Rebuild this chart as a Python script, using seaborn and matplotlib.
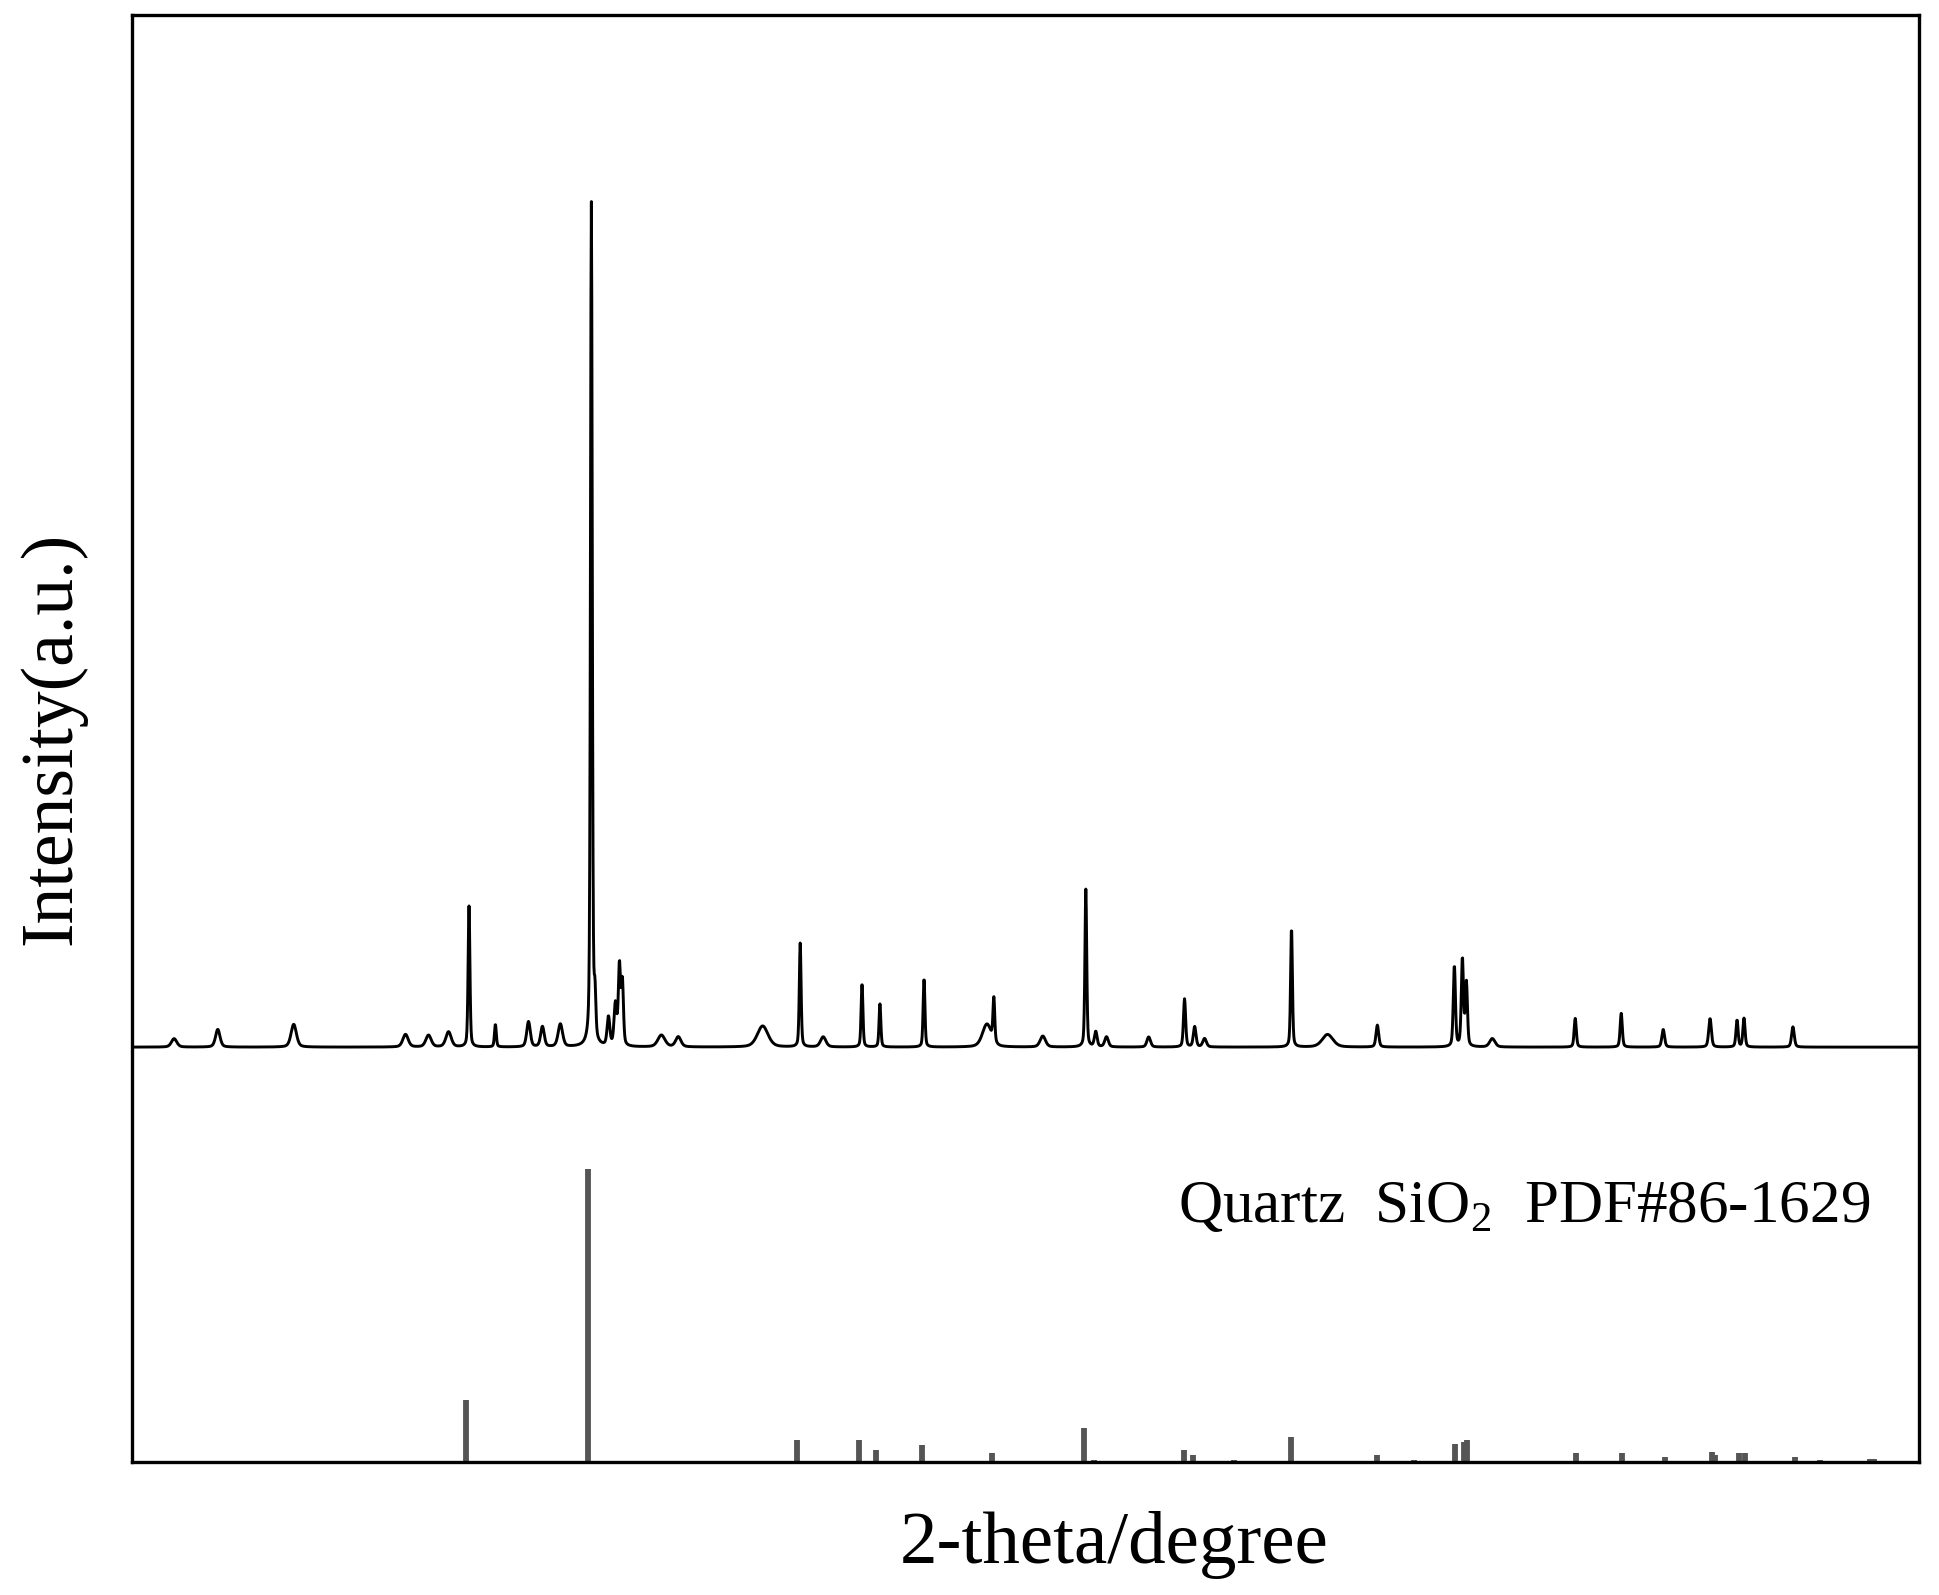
import numpy as np
import pandas as pd
import matplotlib
matplotlib.use("Agg")
import matplotlib.pyplot as plt
import seaborn as sns

# measured pattern: peak position (2-theta), height (% of strongest), width (FWHM, degree)
peak_pos = [7.0, 9.07, 12.67, 17.97, 19.06, 20.01, 20.98, 22.23, 23.8, 24.46, 25.31,
            26.78, 26.95, 27.59, 27.92, 28.11, 28.25, 30.1, 30.9, 34.9, 36.68, 37.77,
            39.61, 40.46, 42.55, 45.53, 45.86, 48.18, 50.22, 50.69, 51.2, 53.2, 54.9,
            55.38, 55.85, 59.97, 61.68, 64.04, 67.69, 68.07, 68.26, 69.49, 73.42, 75.6,
            77.59, 79.81, 81.09, 81.42, 83.74]
peak_int = [1.0, 2.1, 2.7, 1.5, 1.4, 1.8, 16.7, 2.7, 3.0, 2.4, 2.7,
            100, 5.0, 3.4, 4.9, 9.4, 7.5, 1.4, 1.2, 2.5, 12.3, 1.2,
            7.6, 5.1, 8.2, 2.7, 5.1, 1.3, 18.7, 1.8, 1.2, 1.2, 5.7,
            2.4, 1.0, 14.2, 1.5, 2.6, 9.6, 10.4, 7.5, 1.0, 3.4, 4.0,
            2.1, 3.4, 3.2, 3.4, 2.4]
peak_fwhm = [0.3, 0.25, 0.3, 0.3, 0.3, 0.3, 0.1, 0.1, 0.2, 0.2, 0.25,
             0.1, 0.1, 0.15, 0.15, 0.12, 0.12, 0.4, 0.3, 0.6, 0.1, 0.3,
             0.1, 0.1, 0.1, 0.5, 0.1, 0.3, 0.1, 0.15, 0.2, 0.2, 0.12,
             0.15, 0.2, 0.1, 0.6, 0.15, 0.12, 0.12, 0.12, 0.3, 0.12, 0.12,
             0.15, 0.15, 0.12, 0.12, 0.15]

# Quartz SiO2 PDF#86-1629 reference lines
ref_pos = [20.86, 26.64, 36.54, 39.47, 40.29, 42.45, 45.79, 50.14, 50.62, 54.87,
           55.32, 57.23, 59.96, 64.03, 65.79, 67.74, 68.14, 68.31, 73.47, 75.66,
           77.67, 79.88, 80.04, 81.17, 81.49, 83.84, 85.0, 87.4, 87.6]
ref_int = [21, 100, 7.5, 7.5, 4, 5.7, 3.2, 11.5, 0.6, 4,
           2.5, 0.6, 8.6, 2.5, 0.6, 6, 6.7, 7.6, 3, 3,
           1.8, 3.4, 2.5, 3, 3, 1.8, 0.6, 1, 1]

sns.set_theme(style="white")
plt.rcParams['font.family'] = ['Liberation Serif', 'DejaVu Serif']
plt.rcParams['mathtext.fontset'] = 'custom'
plt.rcParams['mathtext.rm'] = 'Liberation Serif'

# build the measured profile from the peak list (pseudo-Voigt shapes)
tt = np.arange(5, 89.7, 0.02)
inten = np.zeros_like(tt)
for p, h, w in zip(peak_pos, peak_int, peak_fwhm):
    s = w / 2.3548
    g = np.exp(-0.5 * ((tt - p) / s) ** 2)
    lo = (w / 2) ** 2 / ((tt - p) ** 2 + (w / 2) ** 2)
    inten += h * (0.6 * g + 0.4 * lo)

scale = 2.88     # measured pattern scale relative to reference sticks
offset = 141.6   # vertical offset of the measured pattern
df = pd.DataFrame({"two_theta": tt, "intensity": offset + inten * scale})

fig = plt.figure(figsize=(19.4, 15.95), dpi=100)
ax = fig.add_axes([0.068, 0.0834, 0.921, 0.9072])

sns.lineplot(data=df, x="two_theta", y="intensity", color="black", linewidth=2.1,
             estimator=None, sort=False, ax=ax)
ax.vlines(ref_pos, 0, ref_int, color="#555555", linewidth=4.2)

ax.set_xlim(5, 89.7)
ax.set_ylim(0, 493.9)
ax.set_xticks([])
ax.set_yticks([])
for sp in ax.spines.values():
    sp.set_color("black")
    sp.set_linewidth(2.4)

ax.text(0.973, 0.166, r"Quartz  SiO$_\mathregular{2}$  PDF#86-1629", transform=ax.transAxes,
        ha="right", va="baseline", fontsize=44, color="black")
ax.set_xlabel("2-theta/degree", fontsize=54, color="black")
ax.xaxis.set_label_coords(0.55, -0.034, transform=ax.transAxes)
ax.xaxis.label.set_va("top")
ax.set_ylabel("Intensity(a.u.)", fontsize=53, labelpad=33, color="black")

fig.savefig("out.png", dpi=100)
